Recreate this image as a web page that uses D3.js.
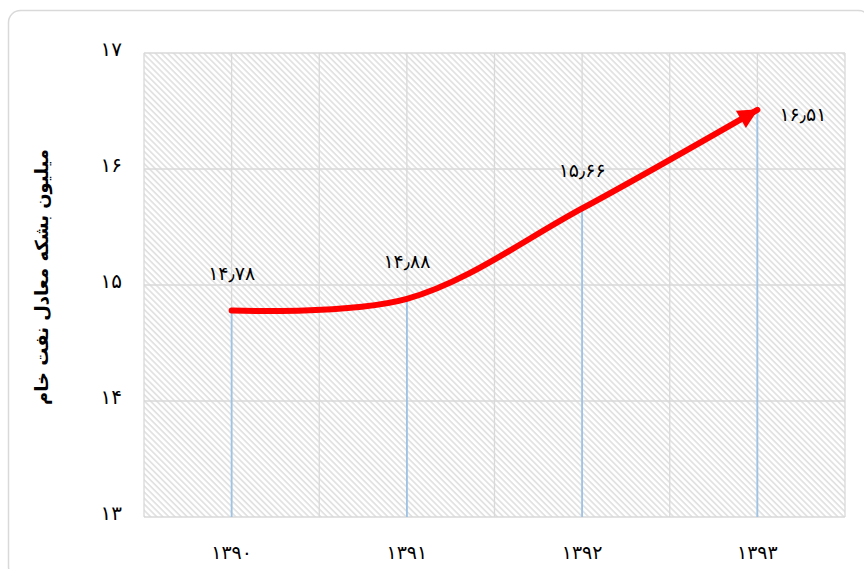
<!DOCTYPE html>
<html>
<head>
<meta charset="utf-8">
<script src="https://cdn.jsdelivr.net/npm/d3@7"></script>
<style>
  body { margin: 0; background: #fff; }
  text { font-family: "DejaVu Sans", sans-serif; fill: #000; }
</style>
</head>
<body>
<div id="chart"></div>
<script>
// years (Persian calendar)
const years = ["۱۳۹۰", "۱۳۹۱", "۱۳۹۲", "۱۳۹۳"];
// million barrels of crude oil equivalent
const values = [14.78, 14.88, 15.66, 16.51];
const valueLabels = ["۱۴٫۷۸", "۱۴٫۸۸", "۱۵٫۶۶", "۱۶٫۵۱"];
const yTicks = [13, 14, 15, 16, 17];
const yTickLabels = ["۱۳", "۱۴", "۱۵", "۱۶", "۱۷"];
const yTitle = "میلیون بشکه معادل نفت خام";

const width = 864, height = 569;
const margin = { top: 53, right: 19, bottom: 53, left: 144 };

const svg = d3.select("#chart").append("svg")
  .attr("width", width)
  .attr("height", height);

// outer chart border
svg.append("rect")
  .attr("x", 8.5).attr("y", 10.5)
  .attr("width", 862).attr("height", 568)
  .attr("rx", 12)
  .attr("fill", "#fff")
  .attr("stroke", "#d9d9d9")
  .attr("stroke-width", 1.5);

// hatch fill
const defs = svg.append("defs");
defs.append("pattern")
  .attr("id", "hatch")
  .attr("patternUnits", "userSpaceOnUse")
  .attr("width", 4.3).attr("height", 4.3)
  .attr("patternTransform", "rotate(45)")
  .append("rect")
  .attr("width", 4.3).attr("height", 1.8)
  .attr("fill", "#e2e2e2");

defs.append("marker")
  .attr("id", "arrow")
  .attr("viewBox", "0 0 10 10")
  .attr("refX", 9.5).attr("refY", 5)
  .attr("markerUnits", "userSpaceOnUse")
  .attr("markerWidth", 24).attr("markerHeight", 20)
  .attr("orient", "auto")
  .append("path")
  .attr("d", "M0,0 L10,5 L0,10 Z")
  .attr("fill", "#ff0000");

const x0 = margin.left, x1 = width - margin.right;
const y0 = margin.top, y1 = height - margin.bottom + 1;

const xBand = d3.scaleBand().domain(years).range([x0, x1]);
const x = d3.scalePoint().domain(years).range([x0, x1]).padding(0.5);
const y = d3.scaleLinear().domain([13, 17]).range([y1, y0]);

const plot = svg.append("g");

plot.append("rect")
  .attr("x", x0).attr("y", y0)
  .attr("width", x1 - x0).attr("height", y1 - y0)
  .attr("fill", "url(#hatch)");

// gridlines: horizontal at integer values
plot.selectAll(".hgrid")
  .data(yTicks)
  .join("line")
  .attr("class", "hgrid")
  .attr("x1", x0).attr("x2", x1)
  .attr("y1", d => y(d)).attr("y2", d => y(d))
  .attr("stroke", "#d9d9d9")
  .attr("stroke-width", 1.3);

// vertical gridlines at category edges and centres
const vLines = [];
years.forEach(c => {
  vLines.push(xBand(c));
  vLines.push(xBand(c) + xBand.bandwidth() / 2);
});
vLines.push(x1);
plot.selectAll(".vgrid")
  .data(vLines)
  .join("line")
  .attr("class", "vgrid")
  .attr("x1", d => d).attr("x2", d => d)
  .attr("y1", y0).attr("y2", y1)
  .attr("stroke", "#d9d9d9")
  .attr("stroke-width", 1.3);

// y tick labels
svg.selectAll(".ytick")
  .data(yTicks)
  .join("text")
  .attr("class", "ytick")
  .attr("x", x0 - 22)
  .attr("y", d => y(d))
  .attr("dy", "0.15em")
  .attr("text-anchor", "end")
  .style("font-size", "20px")
  .text((d, i) => yTickLabels[i]);

// x tick labels
svg.selectAll(".xtick")
  .data(years)
  .join("text")
  .attr("class", "xtick")
  .attr("x", d => x(d))
  .attr("y", y1 + 42)
  .attr("text-anchor", "middle")
  .style("font-size", "19px")
  .text(d => d);

// y title
svg.append("text")
  .attr("transform", `translate(48,${(y0 + y1) / 2 - 8}) rotate(-90)`)
  .attr("text-anchor", "middle")
  .style("font-size", "18px")
  .style("font-weight", "bold")
  .text(yTitle);

const pts = years.map((c, i) => ({ year: c, value: values[i], label: valueLabels[i] }));

// drop lines
plot.selectAll(".drop")
  .data(pts)
  .join("line")
  .attr("class", "drop")
  .attr("x1", d => x(d.year)).attr("x2", d => x(d.year))
  .attr("y1", d => y(d.value)).attr("y2", y1)
  .attr("stroke", "#9dc3e6")
  .attr("stroke-width", 1.8);

// smoothed line with arrow head
const line = d3.line()
  .x(d => x(d.year))
  .y(d => y(d.value))
  .curve(d3.curveCatmullRom.alpha(0.5));

plot.append("path")
  .datum(pts)
  .attr("d", line)
  .attr("fill", "none")
  .attr("stroke", "#ff0000")
  .attr("stroke-width", 6)
  .attr("stroke-linecap", "round")
  .attr("marker-end", "url(#arrow)");

// data labels
const last = pts.length - 1;
svg.selectAll(".dlabel")
  .data(pts)
  .join("text")
  .attr("class", "dlabel")
  .attr("x", (d, i) => i === last ? x(d.year) + 22 : x(d.year))
  .attr("y", (d, i) => i === last ? y(d.value) + 11 : y(d.value) - 31)
  .attr("text-anchor", (d, i) => i === last ? "start" : "middle")
  .style("font-size", "19px")
  .text(d => d.label);
</script>
</body>
</html>
